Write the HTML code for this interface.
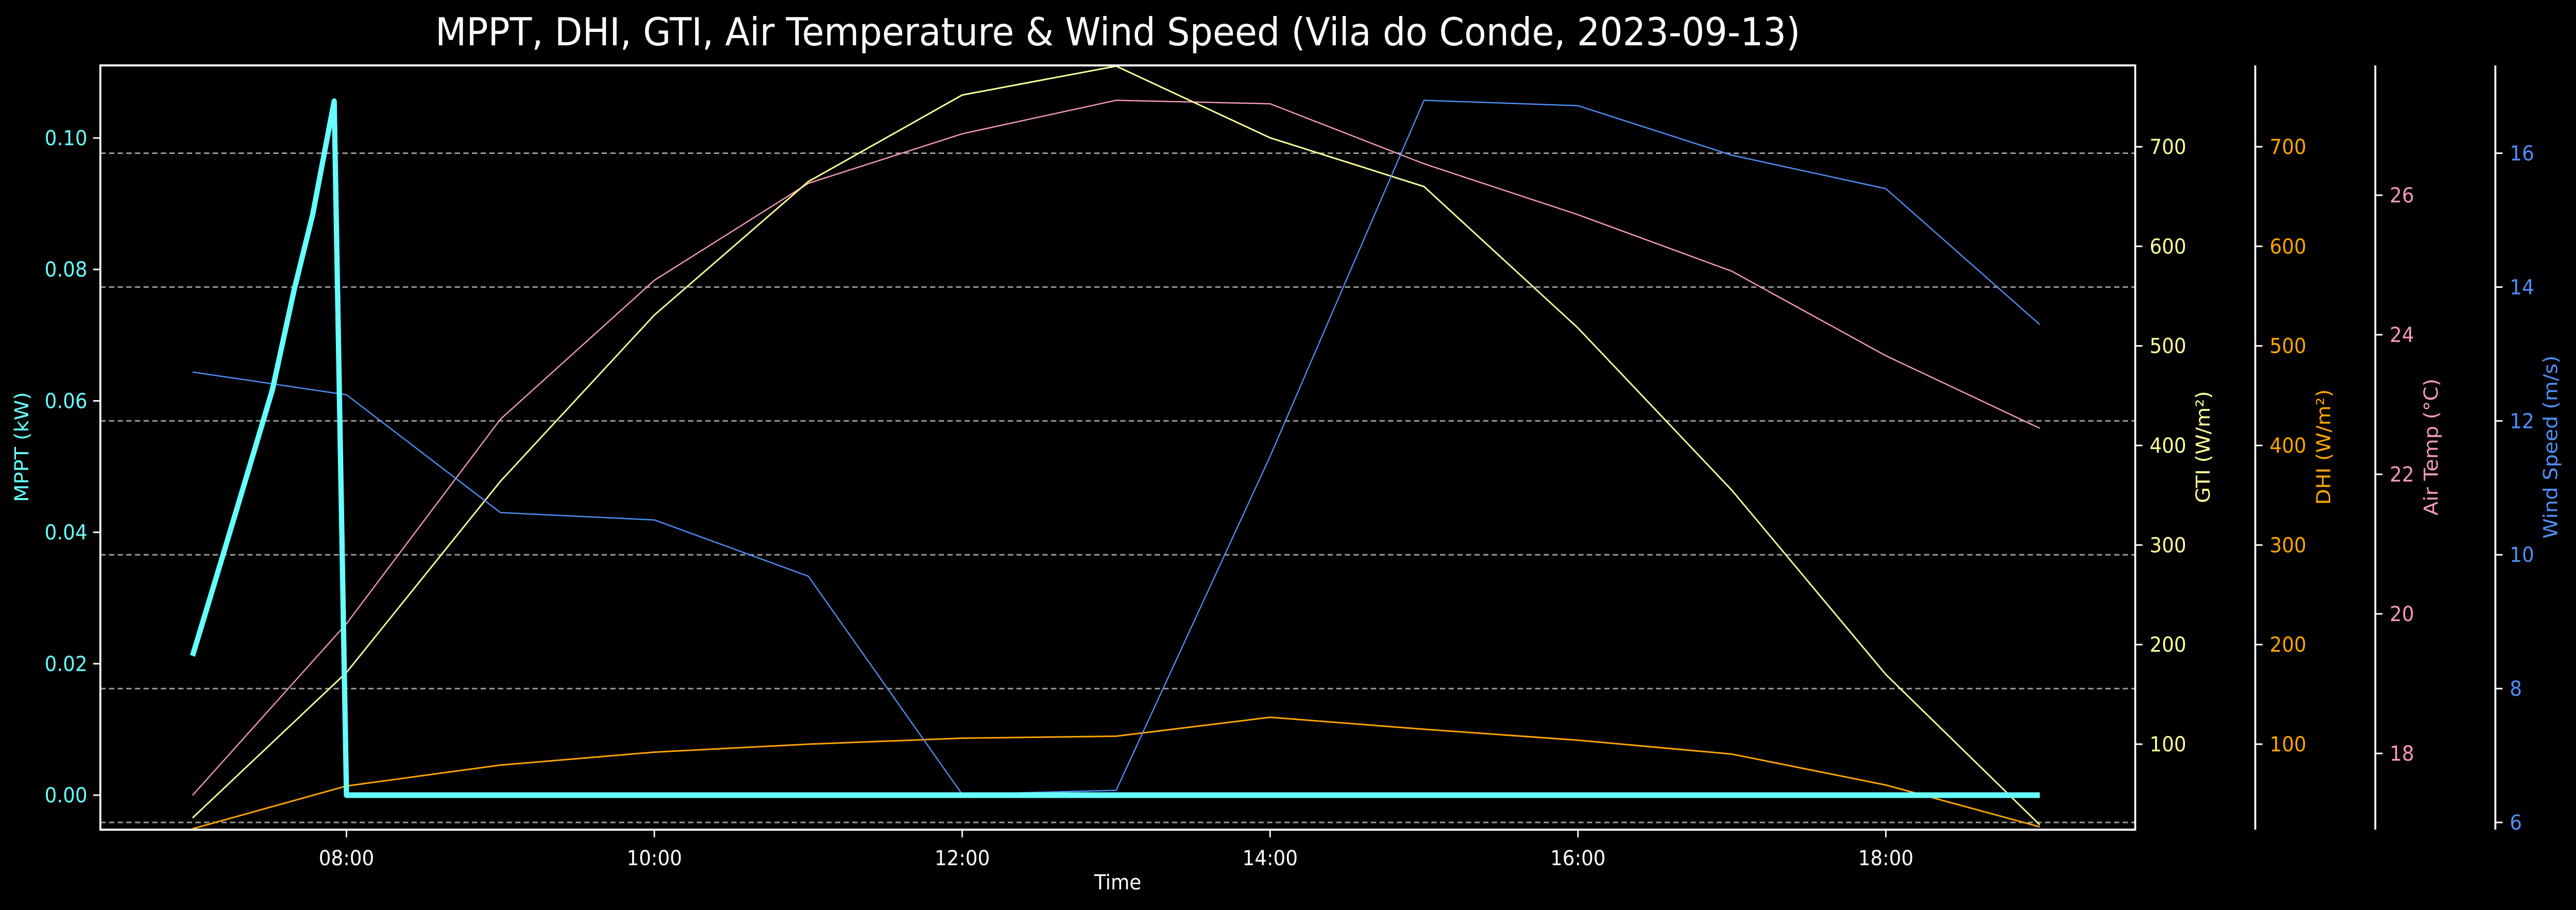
<!DOCTYPE html>
<html><head><meta charset="utf-8"><style>
html,body{margin:0;padding:0;background:#000;overflow:hidden;width:100vw;height:100vh;}
svg{display:block;position:fixed;left:0;top:0;width:100vw;height:100vh;font-family:"DejaVu Sans","Liberation Sans",sans-serif;}
</style></head><body>
<svg id="chart" viewBox="0 0 5365 1767" preserveAspectRatio="none">
<rect width="5365" height="1767" fill="#000"/>
<text x="2328" y="88" fill="#fff" font-size="75" text-anchor="middle">MPPT, DHI, GTI, Air Temperature &amp; Wind Speed (Vila do Conde, 2023-09-13)</text>
<g id="grid"></g>
<g id="series"></g>
<g id="axes"></g>
</svg>
<script>
const hours = [7,8,9,10,11,12,13,14,15,16,17,18,19];
const mpptTimes = [7,7.2,7.42,7.52,7.66,7.78,7.92,8,9,10,11,12,13,14,15,16,17,18,19];
const mpptValues = [0.0212,0.0367,0.0539,0.0618,0.0769,0.0883,0.1056,0,0,0,0,0,0,0,0,0,0,0,0];
const gtiValues = [26,172,364,531,665,752,781,709,660,518,355,170,19];
const dhiValues = [15,58,79,92,100,106,108,127,115,104,90,59,17];
const tempValues = [17.40,19.86,22.79,24.78,26.17,26.88,27.36,27.31,26.45,25.72,24.91,23.70,22.66];
const windValues = [12.73,12.39,10.63,10.52,9.68,6.42,6.48,11.47,16.79,16.71,15.97,15.47,13.44];
const xTickHours = [8,10,12,14,16,18];
const xTickLabels = ["08:00","10:00","12:00","14:00","16:00","18:00"];
const mpptTicks = [0,0.02,0.04,0.06,0.08,0.10];
const mpptTickLabels = ["0.00","0.02","0.04","0.06","0.08","0.10"];
const irrTicks = [100,200,300,400,500,600,700];
const tempTicks = [18,20,22,24,26];
const windTicks = [6,8,10,12,14,16];

const L=209,R=4447,T=127,B=1611;
const NS='http://www.w3.org/2000/svg';
function mk(tag,attrs,parent){const e=document.createElementNS(NS,tag);for(const k in attrs)e.setAttribute(k,attrs[k]);parent.appendChild(e);return e;}
function lin(d0,d1,r0,r1){return v=>r0+(v-d0)*(r1-r0)/(d1-d0);}
const x = lin(7,17,401,3607);
const yM = lin(0,0.10,1544,268);
const yG = lin(100,700,1445,285);
const yT = lin(18,26,1463,379);
const yW = lin(6,16,1597,297.5);

const grid=document.getElementById('grid'), series=document.getElementById('series'), axes=document.getElementById('axes');
windTicks.forEach(v=>{
  const l=mk('line',{x1:L,x2:R,y1:yW(v),y2:yW(v),stroke:'#9a9a9a','stroke-width':3,'stroke-dasharray':'11 7'},grid);
  
  
});
function pathOf(xs,ys,fy){return xs.map((t,i)=>(i?'L':'M')+x(t).toFixed(1)+' '+fy(ys[i]).toFixed(1)).join(' ');}
const clip=mk('clipPath',{id:'pc'},series);mk('rect',{x:L,y:T,width:R-L,height:B-T},clip);
function line(d,color,w,name){
  const p=mk('path',{d:d,fill:'none',stroke:color,'stroke-width':w,'stroke-linejoin':'round','clip-path':'url(#pc)'},series);
  
  
}
line(pathOf(hours,tempValues,yT),'#f79ab8',2.5,'air-temp-line');
line(pathOf(hours,gtiValues,yG),'#ffff99',3,'gti-line');
line(pathOf(hours,dhiValues,yG),'#ffa500',3,'dhi-line');
line(pathOf(hours,windValues,yW),'#4f8ff7',2.5,'wind-speed-line');
line(pathOf(mpptTimes,mpptValues,yM),'#66ffff',11,'mppt-line');

const f=mk('rect',{x:L,y:T,width:R-L,height:B-T,fill:'none',stroke:'#fff','stroke-width':4},axes);


xTickHours.forEach((h,i)=>{
  mk('line',{x1:x(h),x2:x(h),y1:B,y2:B+15,stroke:'#fff','stroke-width':3},axes);
  const t=mk('text',{x:x(h),y:B+69,fill:'#fff','font-size':40,'text-anchor':'middle'},axes);
  t.textContent=xTickLabels[i];
  
  
});
const xt=mk('text',{x:2328,y:1727,fill:'#fff','font-size':40,'text-anchor':'middle'},axes);xt.textContent='Time';


mpptTicks.forEach((v,i)=>{
  mk('line',{x1:L-15,x2:L,y1:yM(v),y2:yM(v),stroke:'#fff','stroke-width':3},axes);
  const t=mk('text',{x:L-27,y:yM(v)+14,fill:'#66ffff','font-size':40,'text-anchor':'end'},axes);
  t.textContent=mpptTickLabels[i];
  
  
});
function vlabel(cx,cy,txt,color,name){
  const t=mk('text',{x:cx,y:cy,fill:color,'font-size':40,'text-anchor':'middle',transform:`rotate(-90 ${cx} ${cy})`,'dominant-baseline':'central'},axes);
  t.textContent=txt;
  
  
}
vlabel(46,868,'MPPT (kW)','#66ffff','mppt-axis-title');
function raxis(sx,ticks,fy,color,lx,title,name,spine){
  if(spine){const s=mk('line',{x1:sx,x2:sx,y1:T,y2:B,stroke:'#fff','stroke-width':4},axes);
    
    }
  ticks.forEach(v=>{
    mk('line',{x1:sx,x2:sx+15,y1:fy(v),y2:fy(v),stroke:'#fff','stroke-width':3},axes);
    const t=mk('text',{x:sx+30,y:fy(v)+14,fill:color,'font-size':40},axes);
    t.textContent=String(v);
    
    
  });
  vlabel(lx,868,title,color,name+'-axis-title');
}
raxis(R,irrTicks,yG,'#ffff99',4589,'GTI (W/m²)','gti',false);
raxis(4697,irrTicks,yG,'#ffa500',4840,'DHI (W/m²)','dhi',true);
raxis(4947,tempTicks,yT,'#f79ab8',5064,'Air Temp (°C)','air-temp',true);
raxis(5197,windTicks,yW,'#4f8ff7',5313,'Wind Speed (m/s)','wind',true);
</script>
</body></html>
